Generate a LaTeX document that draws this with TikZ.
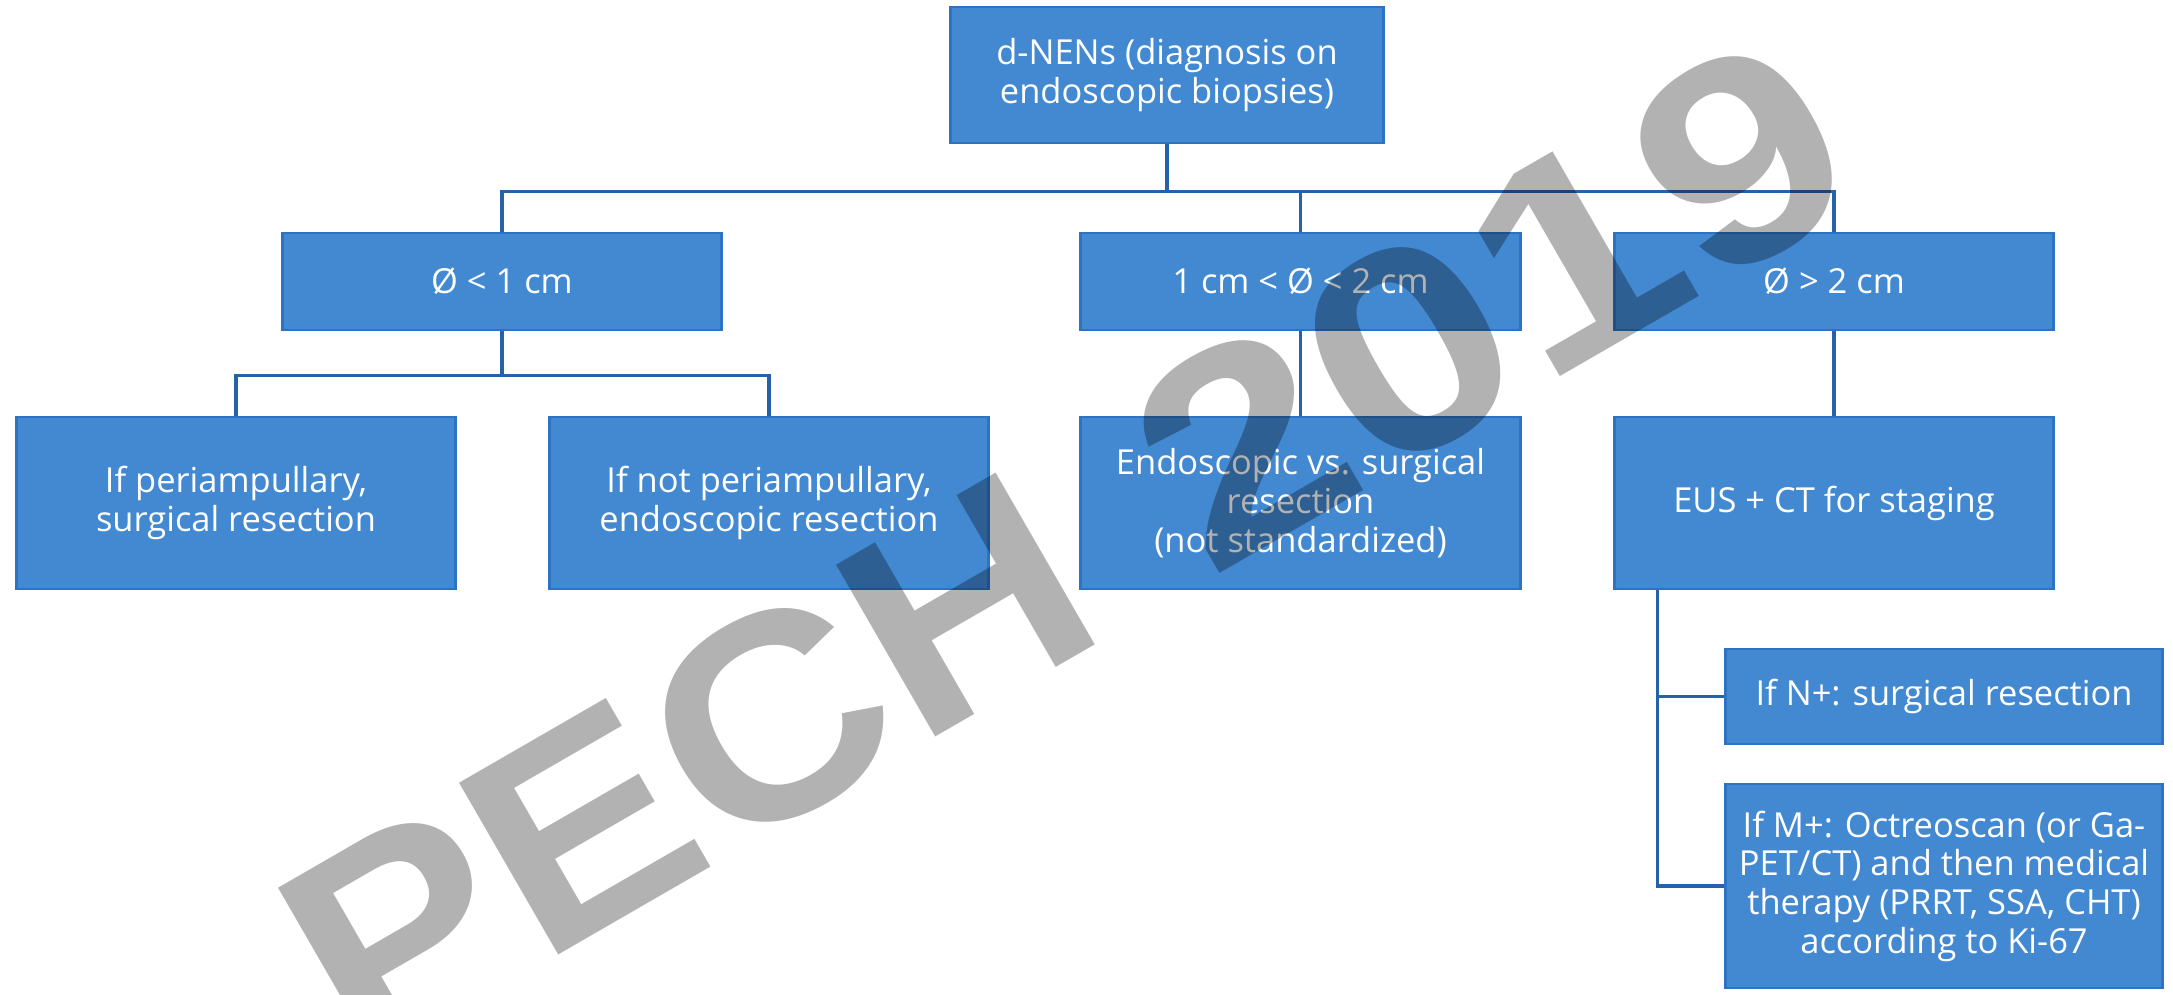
\documentclass[tikz,border=0pt]{standalone}
\usepackage{fontspec}
\setmainfont{Open Sans}
\newfontfamily\markfont{Liberation Sans}
\definecolor{boxblue}{RGB}{66,137,210}
\definecolor{boxedge}{RGB}{45,115,196}
\definecolor{linkblue}{RGB}{38,98,170}
\tikzset{
  stage/.style={draw=boxedge, line width=0.8pt, fill=boxblue, text=white, align=center,
    inner sep=0pt, font=\fontsize{9.8}{11}\selectfont},
  link/.style={draw=linkblue, line width=0.9pt},
  stamp/.style={font=\markfont\bfseries\fontsize{82}{82}\selectfont, text=black, text opacity=0.3,
    inner sep=0pt, anchor=base west, rotate=30},
}
\begin{document}
\begin{tikzpicture}[x=0.01cm, y=-0.01cm]
\useasboundingbox (0,0) rectangle (2173,994);

\node[stage, minimum width=4.32cm, minimum height=1.36cm] (root) at (1167,75) {d-NENs (diagnosis on\\endoscopic biopsies)};

\node[stage, minimum width=4.38cm, minimum height=0.97cm] (small) at (502,281.5) {Ø < 1 cm};
\node[stage, minimum width=4.39cm, minimum height=0.97cm] (mid) at (1300.5,281.5) {1 cm < Ø < 2 cm};
\node[stage, minimum width=4.38cm, minimum height=0.97cm] (large) at (1834,281.5) {Ø > 2 cm};

\node[stage, minimum width=4.38cm, minimum height=1.72cm] (peri) at (236,503) {If periampullary,\\surgical resection};
\node[stage, minimum width=4.38cm, minimum height=1.72cm] (nonperi) at (769,503) {If not periampullary,\\endoscopic resection};
\node[stage, minimum width=4.39cm, minimum height=1.72cm] (endo) at (1300.5,503) {Endoscopic vs. surgical\\resection\\(not standardized)};
\node[stage, minimum width=4.38cm, minimum height=1.72cm] (eus) at (1834,503) {EUS + CT for staging};

\node[stage, minimum width=4.36cm, minimum height=0.95cm] (nplus) at (1944,696.5) {If N+: surgical resection};
\node[stage, minimum width=4.36cm, minimum height=2.04cm] (mplus) at (1944,886) {If M+: Octreoscan (or Ga-\\PET/CT) and then medical\\therapy (PRRT, SSA, CHT)\\according to Ki-67};

% tree connectors
\draw[link] (root.south) -- ++(0,47) coordinate (bus);
\draw[link] (small.north) |- (bus) -| (large.north);
\draw[link] (mid.north) -- (mid.north |- bus);
\draw[link] (small.south) -- ++(0,44) coordinate (subbus);
\draw[link] (peri.north) |- (subbus) -| (nonperi.north);
\draw[link] (mid.south) -- (endo.north);
\draw[link] (large.south) -- (eus.north);
\coordinate (side) at ([xshift=0.44cm]eus.south west);
\draw[link] (side) |- (mplus.west);
\draw[link] (side |- nplus.west) -- (nplus.west);

% watermark
\node[stamp] (stampword) at (359,1070.5) {\scalebox{1.087}[1]{PECH}};
\node[stamp] (stampyear) at (1209,580) {\scalebox{1.196}[1]{2019}};
\end{tikzpicture}
\end{document}
